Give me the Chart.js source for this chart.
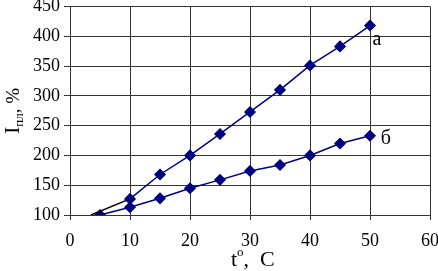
<!DOCTYPE html>
<html>
<head>
<meta charset="utf-8">
<script src="https://cdn.jsdelivr.net/npm/chart.js@4"></script>
<style>
  html, body { margin: 0; padding: 0; background: #fff; }
  #wrap { width: 438px; height: 271px; }
</style>
</head>
<body>
<div id="wrap"><canvas id="chart"></canvas></div>
<script>
const tempA = [3.5, 10, 15, 20, 25, 30, 35, 40, 45, 50];
const valuesA = [100, 127, 168, 200, 236, 273, 310, 351, 383, 418];
const tempB = [5, 10, 15, 20, 25, 30, 35, 40, 45, 50];
const valuesB = [100, 113, 128, 145, 159, 174, 184, 200, 220, 233];
const xTicks = [0, 10, 20, 30, 40, 50, 60];
const yTicks = [100, 150, 200, 250, 300, 350, 400, 450];
const seriesNames = ['а', 'б'];

const navy = '#000080';
const serif = '"Liberation Serif", "Times New Roman", serif';

const toPoints = (xs, ys) => xs.map((x, i) => ({ x: x, y: ys[i] }));

// axis titles and curve labels drawn on the canvas (subscript/superscript)
const labelsPlugin = {
    id: 'labels',
    afterDraw(chart) {
        const ctx = chart.ctx;
        const xs = chart.scales.x, ys = chart.scales.y;
        ctx.save();
        ctx.fillStyle = '#000';
        ctx.textBaseline = 'alphabetic';

        // y title: I_пл, %
        ctx.translate(19, 134);
        ctx.rotate(-Math.PI / 2);
        ctx.font = '22px ' + serif;
        ctx.fillText('I', 0, 0);
        let w = ctx.measureText('I').width;
        ctx.font = '13px ' + serif;
        ctx.fillText('пл', w, 4);
        w += ctx.measureText('пл').width;
        ctx.font = '19px ' + serif;
        ctx.fillText(', %', w, 0);
        ctx.setTransform(1, 0, 0, 1, 0, 0);

        // x title: t°, C
        let x0 = 231, y0 = 266;
        ctx.font = '22px ' + serif;
        ctx.fillText('t', x0, y0);
        x0 += ctx.measureText('t').width;
        ctx.font = '13px ' + serif;
        ctx.fillText('o', x0, y0 - 10);
        x0 += ctx.measureText('o').width;
        ctx.font = '22px ' + serif;
        ctx.fillText(',  C', x0, y0);

        // curve labels
        ctx.font = '20px ' + serif;
        ctx.fillText(seriesNames[0], xs.getPixelForValue(50.4), ys.getPixelForValue(385));
        ctx.fillText(seriesNames[1], xs.getPixelForValue(51.8), ys.getPixelForValue(219));
        ctx.restore();
    }
};

new Chart(document.getElementById('chart'), {
    type: 'scatter',
    data: {
        datasets: [
            {
                label: seriesNames[0],
                data: toPoints(tempA, valuesA),
                showLine: true,
                borderColor: navy,
                borderWidth: 1.5,
                segment: { borderColor: c => c.p0DataIndex === 0 ? '#000' : navy },
                backgroundColor: navy,
                pointStyle: 'rectRot',
                pointRadius: c => c.dataIndex === 0 ? 0 : 5,
                pointBorderColor: navy,
                pointBackgroundColor: navy
            },
            {
                label: seriesNames[1],
                data: toPoints(tempB, valuesB),
                showLine: true,
                borderColor: navy,
                borderWidth: 1.5,
                backgroundColor: navy,
                pointStyle: 'rectRot',
                pointRadius: 5,
                pointBorderColor: navy,
                pointBackgroundColor: navy
            }
        ]
    },
    options: {
        responsive: true,
        maintainAspectRatio: false,
        animation: false,
        layout: { padding: { top: 6, right: 8, left: 0, bottom: 0 } },
        plugins: {
            legend: { display: false },
            tooltip: { enabled: false }
        },
        scales: {
            x: {
                type: 'linear',
                min: 0,
                max: 60,
                afterBuildTicks: s => { s.ticks = xTicks.map(v => ({ value: v })); },
                afterFit: s => { s.height = 56; s.paddingLeft = 0; s.paddingRight = 0; },
                grid: { color: '#333', lineWidth: 1, tickLength: 5, drawTicks: true },
                border: { display: false },
                ticks: { color: '#000', font: { family: serif, size: 18 }, padding: 10 }
            },
            y: {
                type: 'linear',
                min: 100,
                max: 450,
                afterBuildTicks: s => { s.ticks = yTicks.map(v => ({ value: v })); },
                afterFit: s => { s.width = 70; s.paddingTop = 0; s.paddingBottom = 0; },
                grid: { color: '#333', lineWidth: 1, tickLength: 6 },
                border: { display: true, color: '#333' },
                ticks: { color: '#000', font: { family: serif, size: 18 }, padding: 4 }
            }
        }
    },
    plugins: [labelsPlugin]
});
</script>
</body>
</html>
